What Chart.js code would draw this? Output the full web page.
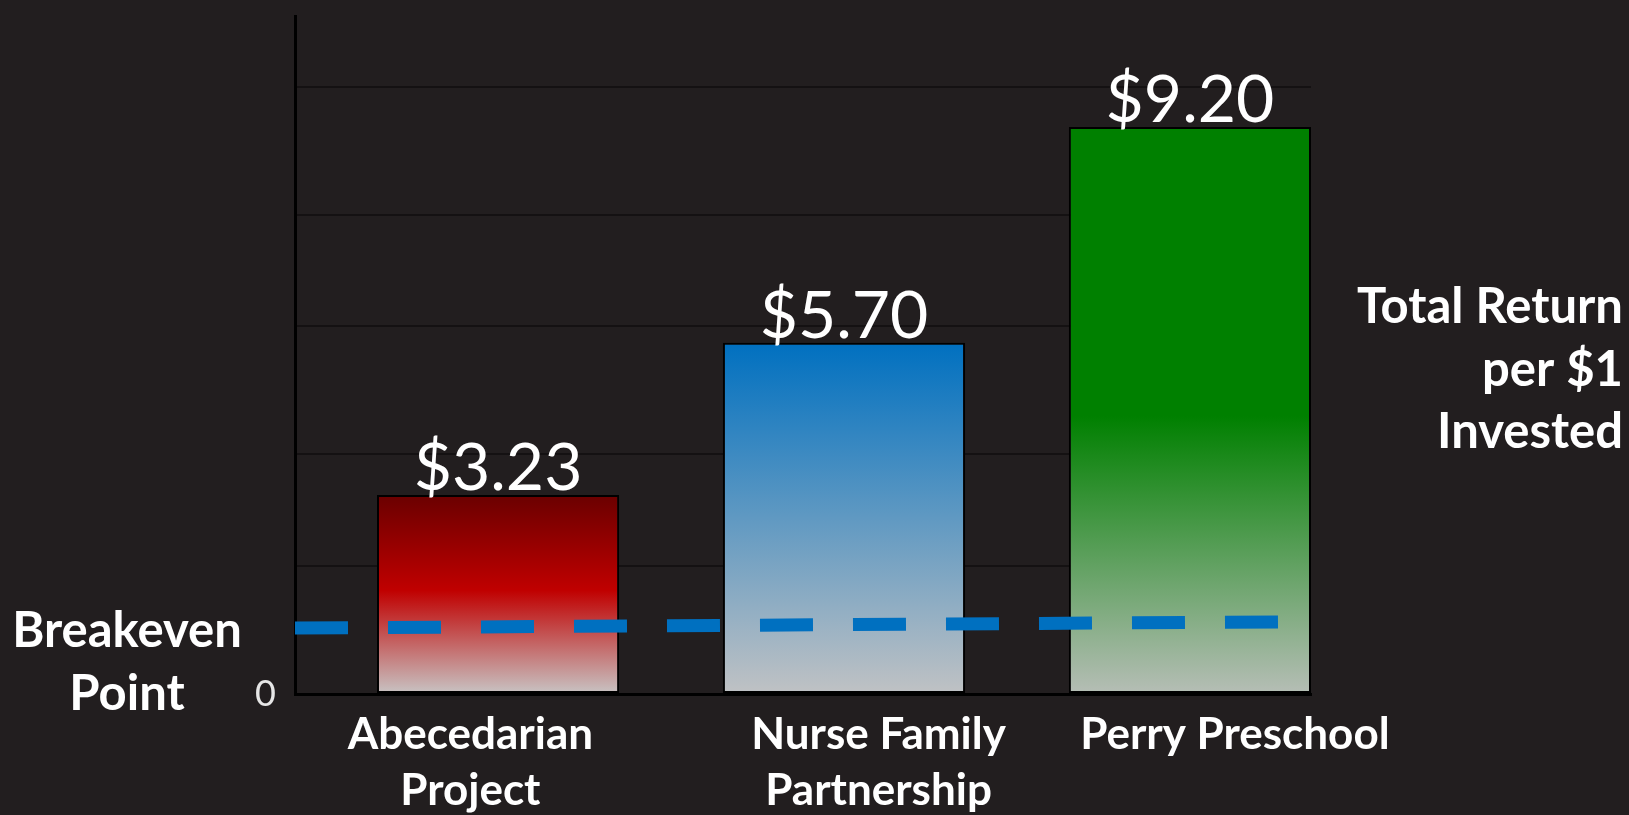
<!DOCTYPE html>
<html>
<head>
<meta charset="utf-8">
<script src="https://cdn.jsdelivr.net/npm/chart.js@4.4.1/dist/chart.umd.min.js"></script>
<style>
  html, body { margin: 0; padding: 0; background: #221e1f; }
  #wrap { width: 1629px; height: 815px; position: relative; }
</style>
</head>
<body>
<div id="wrap"><canvas id="chart_Return"></canvas></div>
<script>
// values
var programs = [["Abecedarian", "Project"], ["Nurse Family", "Partnership"], ["Perry Preschool"]];
var returnPerDollar = [3.23, 5.70, 9.20];
var returnLabels = ["$3.23", "$5.70", "$9.20"];
var breakevenLine = [1.07, 1.17];   // drawn slightly tilted in the original
var yTicks = [0, 2.08, 3.89, 5.97, 7.77, 9.85];   // gridlines as they sit in the original

var FONT = "Lato, 'Open Sans', sans-serif";

// gradient stops per bar, top -> bottom
var barStops = [
  [[0, "#6a0000"], [0.48, "#c00000"], [1, "#c8c4c4"]],
  [[0, "#0070c0"], [1, "#c0c2c4"]],
  [[0, "#008000"], [0.51, "#008000"], [1, "#b6beb6"]]
];
var barFallback = ["#c00000", "#0070c0", "#008000"];

function barColor(ctx) {
  var chart = ctx.chart;
  var i = ctx.dataIndex;
  if (i == undefined) return "#888";
  if (!chart.chartArea) return barFallback[i];
  var ys = chart.scales.y;
  var top = ys.getPixelForValue(returnPerDollar[i]);
  var bottom = ys.getPixelForValue(0);
  var g = chart.ctx.createLinearGradient(0, top, 0, bottom);
  barStops[i].forEach(function (s) { g.addColorStop(s[0], s[1]); });
  return g;
}

var valueLabelPlugin = {
  id: "valueLabels",
  afterDatasetsDraw: function (chart) {
    var meta = chart.getDatasetMeta(1);
    var c = chart.ctx;
    c.save();
    c.font = "66px " + FONT;
    c.fillStyle = "#ffffff";
    c.textAlign = "center";
    c.textBaseline = "alphabetic";
    meta.data.forEach(function (bar, i) {
      c.fillText(returnLabels[i], bar.x, bar.y - 5);
    });
    c.restore();
  }
};

var sideTextPlugin = {
  id: "sideText",
  afterDraw: function (chart) {
    var c = chart.ctx;
    var zero = chart.scales.y.getPixelForValue(0);
    c.save();
    c.font = "bold 49px " + FONT;
    c.fillStyle = "#ffffff";
    c.textBaseline = "middle";
    c.textAlign = "center";
    c.fillText("Breakeven", 127, zero - 63);
    c.fillText("Point", 127, zero);
    c.textAlign = "right";
    c.fillText("Total Return", 1623, 307);
    c.fillText("per $1", 1623, 370);
    c.fillText("Invested", 1623, 432);
    c.restore();
  }
};

new Chart(document.getElementById("chart_Return"), {
  type: "bar",
  data: {
    datasets: [{
      type: "line",
      label: "Breakeven",
      order: 0,
      data: [{ x: -0.587, y: breakevenLine[0] }, { x: 2.26, y: breakevenLine[1] }],
      borderColor: "#0070c0",
      borderWidth: 13,
      borderDash: [53, 40],
      borderCapStyle: "butt",
      pointRadius: 0,
      fill: false,
      tension: 0
    }, {
      label: "Total Return per $1 Invested",
      order: 1,
      data: returnPerDollar.map(function (v, i) { return { x: i, y: v }; }),
      backgroundColor: barColor,
      borderColor: "#000000",
      borderWidth: 2,
      borderSkipped: false,
      categoryPercentage: 1,
      barPercentage: 0.7
    }]
  },
  plugins: [valueLabelPlugin, sideTextPlugin],
  options: {
    responsive: true,
    maintainAspectRatio: false,
    animation: false,
    layout: { padding: { top: 16, right: 318, left: 0, bottom: 0 } },
    plugins: {
      legend: { display: false },
      tooltip: { enabled: false }
    },
    scales: {
      x: {
        type: "linear",
        min: -0.587,
        max: 2.35,
        offset: false,
        grid: { display: false, offset: false },
        border: { display: true, color: "#000000", width: 3 },
        afterFit: function (s) {
          s.height = 121;
          s.paddingLeft = 0;
          s.paddingRight = 0;
        },
        afterBuildTicks: function (s) {
          s.ticks = [-0.08, 1.1, 2.13].map(function (v) { return { value: v }; });
        },
        ticks: {
          autoSkip: false,
          maxRotation: 0,
          padding: 5,
          color: "#ffffff",
          font: { family: FONT, size: 44, weight: "bold", lineHeight: 1.27 },
          callback: function (v, i) { return programs[i]; }
        }
      },
      y: {
        min: 0,
        max: 11,
        afterFit: function (s) {
          s.width = 295;
          s.paddingTop = 0;
          s.paddingBottom = 0;
        },
        afterBuildTicks: function (s) {
          s.ticks = yTicks.map(function (v) { return { value: v }; });
        },
        grid: { color: "#141112", lineWidth: 2, drawTicks: false },
        border: { display: true, color: "#000000", width: 3 },
        ticks: {
          padding: 19,
          color: "#e6e6e6",
          font: { family: FONT, size: 36 },
          callback: function (v) { return v === 0 ? "0" : ""; }
        }
      }
    }
  }
});
</script>
</body>
</html>
